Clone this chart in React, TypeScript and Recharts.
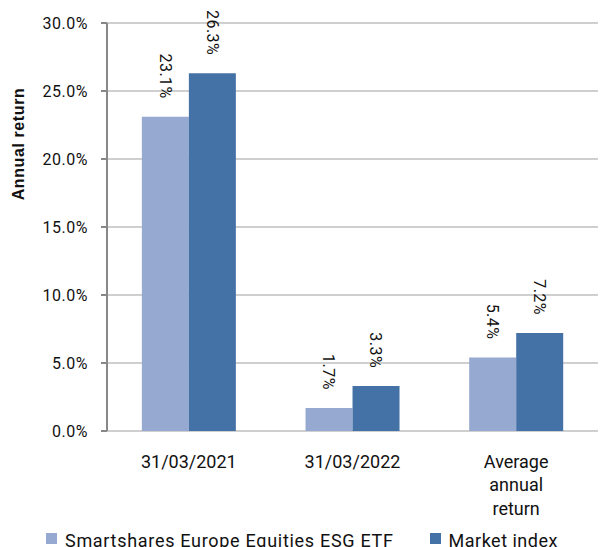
import React from 'react';
import { BarChart, Bar, XAxis, YAxis, CartesianGrid, Legend, LabelList, Text } from 'recharts';

const categories = ['31/03/2021', '31/03/2022', 'Average annual return'];
const etfValues = [23.1, 1.7, 5.4];
const indexValues = [26.3, 3.3, 7.2];
const yTicks = [0, 5, 10, 15, 20, 25, 30];
const seriesNames = ['Smartshares Europe Equities ESG ETF', 'Market index'];
const colors = ['#95A9D1', '#4472A7'];

const data = categories.map((c, i) => ({ name: c, etf: etfValues[i], idx: indexValues[i] }));

const FONT = 'Roboto, sans-serif';

const RotLabel = (props: any) => {
  const { x, y, width, value } = props;
  const cx = x + width / 2;
  const ty = y - 18;
  return (
    <text
      x={cx}
      y={ty}
      transform={`rotate(90, ${cx}, ${ty})`}
      textAnchor="end"
      dy="0.36em"
      fontFamily={FONT}
      fontSize={16}
      fill="#111"
      letterSpacing={0.5}
    >
      {`${value.toFixed(1)}%`}
    </text>
  );
};

const CatTick = (props: any) => {
  const { x, y, payload } = props;
  return (
    <Text
      x={x}
      y={y + 16}
      width={68}
      textAnchor="middle"
      verticalAnchor="start"
      lineHeight={23.5}
      fontFamily={FONT}
      fontSize={18}
      fill="#111"
    >
      {payload.value}
    </Text>
  );
};

const LegendContent = () => (
  <div style={{ display: 'flex', height: 20, fontFamily: FONT, fontSize: 18, color: '#111', paddingLeft: 46 }}>
    {seriesNames.map((n, i) => (
      <div key={n} style={{ display: 'flex', alignItems: 'flex-start', width: i === 0 ? 405 : 180 }}>
        <span style={{ display: 'inline-block', width: 11, height: 11, background: colors[i], marginRight: 8, marginTop: 2, flex: 'none' }} />
        <span style={{ lineHeight: '20px', whiteSpace: 'nowrap', letterSpacing: i === 0 ? 0.7 : 0.5 }}>{n}</span>
      </div>
    ))}
  </div>
);

const YLabel = (props: any) => {
  const { viewBox } = props;
  const cx = 18;
  const cy = viewBox.y + viewBox.height / 2 - 83;
  return (
    <text
      x={cx}
      y={cy}
      transform={`rotate(-90, ${cx}, ${cy})`}
      textAnchor="middle"
      dy="0.36em"
      fontFamily="'Liberation Sans', Arial, sans-serif"
      fontWeight="bold"
      fontSize={16}
      letterSpacing={0.6}
      fill="#111"
    >
      Annual return
    </text>
  );
};

export default function App() {
  return (
    <div style={{ position: 'absolute', left: 0, top: 0, width: 600, height: 547, background: '#fff', overflow: 'hidden' }}>
      <BarChart
        width={600}
        height={547}
        data={data}
        margin={{ top: 23, right: 2, bottom: 0, left: 0 }}
        barGap={0}
        barCategoryGap="21.3%"
      >
        <CartesianGrid xAxisId="cat" vertical={false} stroke="#BFBFBF" strokeWidth={1.5} />
        <XAxis
          xAxisId="grid"
          type="number"
          domain={[0, 3]}
          ticks={[0, 1, 2, 3]}
          height={0}
          tick={false}
          tickSize={6}
          axisLine={{ stroke: '#888', strokeWidth: 2 }}
          tickLine={{ stroke: '#888', strokeWidth: 2 }}
        />
        <XAxis
          xAxisId="cat"
          dataKey="name"
          height={96}
          axisLine={false}
          tickLine={false}
          tick={<CatTick />}
          interval={0}
        />
        <YAxis
          width={107}
          domain={[0, 30]}
          ticks={yTicks}
          tickFormatter={(v: number) => `${v.toFixed(1)}%`}
          tick={{ fontFamily: FONT, fontSize: 16, fill: '#111', letterSpacing: 0.5 }}
          tickSize={6}
          tickMargin={13}
          axisLine={{ stroke: '#888', strokeWidth: 2 }}
          tickLine={{ stroke: '#888', strokeWidth: 2 }}
          label={<YLabel />}
        />
        <Legend content={<LegendContent />} verticalAlign="bottom" wrapperStyle={{ left: 0, width: 600, top: 531 }} />
        <Bar xAxisId="cat" dataKey="etf" name={seriesNames[0]} fill={colors[0]} isAnimationActive={false}>
          <LabelList dataKey="etf" content={<RotLabel />} />
        </Bar>
        <Bar xAxisId="cat" dataKey="idx" name={seriesNames[1]} fill={colors[1]} isAnimationActive={false}>
          <LabelList dataKey="idx" content={<RotLabel />} />
        </Bar>
      </BarChart>
    </div>
  );
}
